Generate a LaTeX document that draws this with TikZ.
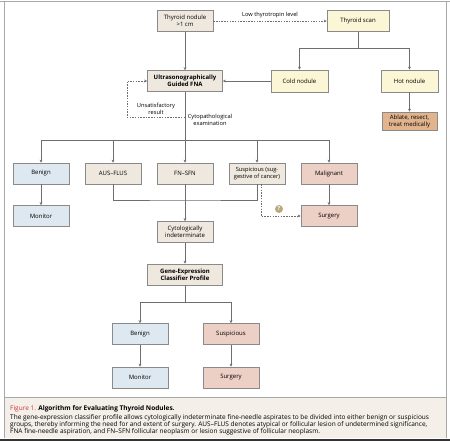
\documentclass[tikz,border=0pt]{standalone}
\usepackage{fontspec}
\setmainfont{Open Sans}
\usepackage{xcolor}
\usetikzlibrary{arrows.meta}

\definecolor{boxline}{HTML}{8A8A8A}
\definecolor{conncol}{HTML}{6E6E6E}
\definecolor{nbeige}{HTML}{EEE8DF}
\definecolor{nyellow}{HTML}{FBF6D6}
\definecolor{nblue}{HTML}{DDE8F0}
\definecolor{nred}{HTML}{ECCFC5}
\definecolor{norange}{HTML}{E2B48D}
\definecolor{capbg}{HTML}{F4EFE9}
\definecolor{qolive}{HTML}{B8AA7E}
\definecolor{figred}{HTML}{D0343A}
\definecolor{framecol}{HTML}{A8A8A8}

\begin{document}
\begin{tikzpicture}[x=1pt,y=-1pt,
  tbox/.style={draw=boxline,line width=0.6pt,minimum width=56pt,minimum height=21pt,inner sep=1pt,align=center,font=\fontsize{6}{7}\selectfont},
  wbox/.style={tbox,minimum width=75pt,font=\fontsize{6}{7}\selectfont\bfseries},
  conn/.style={draw=conncol,line width=0.6pt},
  arr/.style={conn,-{Stealth[length=3pt,width=2.8pt]}},
  dotarr/.style={arr,dash pattern=on 1.5pt off 1.2pt},
  lbl/.style={font=\fontsize{5.7}{6.8}\selectfont,align=center,inner sep=0pt}]
\useasboundingbox (0,0) rectangle (450,441);

% frame and caption
\fill[capbg] (4.5,397.5) rectangle (446,438);
\draw[framecol,line width=0.8pt] (0,1) -- (450,1) (4.5,1) -- (4.5,438) (446,1) -- (446,438) (4.5,397.5) -- (446,397.5);
\draw[black!80,line width=2pt] (0,439.5) -- (450,439.5);
\node[anchor=north west,inner sep=0pt,align=left,font=\fontsize{6.5}{6.7}\selectfont](cap) at (10,405){\textcolor{figred}{Figure 1.} \textbf{Algorithm for Evaluating Thyroid Nodules.}\\[3pt]
The gene-expression classifier profile allows cytologically indeterminate fine-needle aspirates to be divided into either benign or suspicious\\
groups, thereby informing the need for and extent of surgery. AUS–FLUS denotes atypical or follicular lesion of undetermined significance,\\
FNA fine-needle aspiration, and FN–SFN follicular neoplasm or lesion suggestive of follicular neoplasm.};

% top part
\node[tbox,fill=nbeige](nod) at (185,21){Thyroid nodule\\>1 cm};
\node[tbox,fill=nyellow,minimum width=62pt](scan) at (358,21){Thyroid scan};
\node[wbox,fill=nbeige](fna) at (185,81){Ultrasonographically\\Guided FNA};
\node[tbox,fill=nyellow,minimum width=57pt,minimum height=22pt](cold) at (299.5,81){Cold nodule};
\node[tbox,fill=nyellow,minimum width=57pt,minimum height=22pt](hot) at (409.5,81){Hot nodule};
\node[tbox,fill=norange,minimum width=55pt,minimum height=18pt](abl) at (409.5,121){Ablate, resect,\\treat medically};

% cytology
\node[tbox,fill=nblue](ben) at (41,173.5){Benign};
\node[tbox,fill=nbeige](aus) at (113,173.5){AUS–FLUS};
\node[tbox,fill=nbeige](fn) at (185,173.5){FN–SFN};
\node[tbox,fill=nbeige,font=\fontsize{5.7}{6.9}\selectfont](susp) at (257,173.5){Suspicious (sug-\\gestive of cancer)};
\node[tbox,fill=nred](mal) at (329,173.5){Malignant};
\node[tbox,fill=nblue](mon) at (41,216){Monitor};
\node[tbox,fill=nred](surg) at (329,216){Surgery};
\node[tbox,fill=nbeige](cyt) at (185,232){Cytologically\\indeterminate};

% classifier
\node[wbox,fill=nbeige](gene) at (185,274.5){Gene-Expression\\Classifier Profile};
\node[tbox,fill=nblue](ben2) at (140,334){Benign};
\node[tbox,fill=nred](susp2) at (231,334){Suspicious};
\node[tbox,fill=nblue](mon2) at (140,377.5){Monitor};
\node[tbox,fill=nred](surg2) at (231,377.5){Surgery};

\node[circle,fill=qolive,inner sep=0pt,minimum size=8pt,text=white,font=\fontsize{5.5}{5.5}\selectfont\bfseries](q) at (279,209){?};

\coordinate (scansplit) at (358,48);
\coordinate (cyto) at (185,117);
\coordinate (ret) at (127,117);
\coordinate (split) at (185,140);
\coordinate (join) at (185,200);
\coordinate (genesplit) at (185,302);

\draw[dotarr](nod) -- node[lbl,above=2.5pt]{Low thyrotropin level} (scan);
\draw[arr](nod) -- (fna);
\draw[conn](scan) -- (scansplit);
\draw[conn](scansplit -| cold) -- (scansplit -| hot);
\draw[arr](scansplit -| cold) -- (cold);
\draw[arr](scansplit -| hot) -- (hot);
\draw[arr](cold) -- (fna);
\draw[arr](hot) -- (abl);

\draw[dotarr](cyto) -- (ret) |- (fna);
\node[lbl](unsat) at (156,109){Unsatisfactory\\result};
\node[lbl](cytex) at (210,120){Cytopathological\\examination};

\draw[conn](fna) -- (split);
\draw[conn](split -| ben) -- (split -| mal);
\foreach \n in {ben,aus,fn,susp,mal}
  \draw[arr](split -| \n) -- (\n);
\draw[arr](ben) -- (mon);
\draw[arr](mal) -- (surg);
\draw[conn](aus) |- (join) -| (susp);
\draw[arr](fn) -- (cyt);
\draw[dotarr]([xshift=4pt]susp.south) |- (surg);
\draw[arr](cyt) -- (gene);

\draw[conn](gene) -- (genesplit);
\draw[conn](genesplit -| ben2) -- (genesplit -| susp2);
\foreach \n in {ben2,susp2}
  \draw[arr](genesplit -| \n) -- (\n);
\draw[arr](ben2) -- (mon2);
\draw[arr](susp2) -- (surg2);

\end{tikzpicture}
\end{document}
